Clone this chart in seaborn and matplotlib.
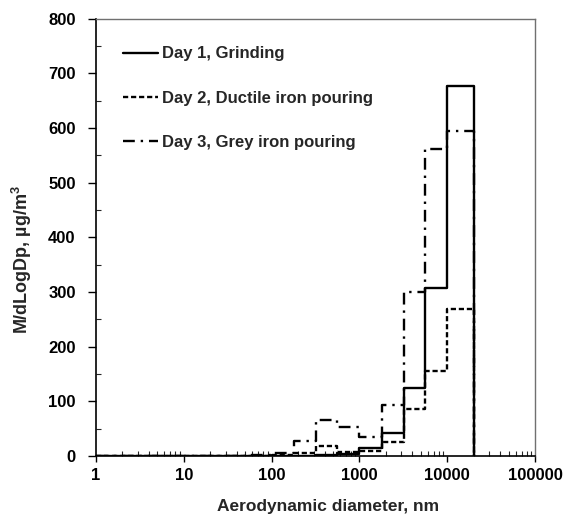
import matplotlib
matplotlib.use("Agg")
import matplotlib.pyplot as plt
import matplotlib.ticker as mticker
import numpy as np
import pandas as pd
import seaborn as sns

# Bin edges (nm) of the impactor stages
edges = [1, 56, 100, 180, 320, 560, 1000, 1800, 3200, 5600, 10000, 20000]
series_names = ["Day 1, Grinding", "Day 2, Ductile iron pouring", "Day 3, Grey iron pouring"]
day1 = [0, 0, 1, 1, 2, 4, 14, 42, 124, 307, 677]
day2 = [0, 1, 2, 5, 18, 8, 10, 25, 86, 156, 269]
day3 = [0, 2, 6, 27, 66, 54, 35, 93, 300, 561, 595]
x_ticks = [1, 10, 100, 1000, 10000, 100000]
y_ticks = [0, 100, 200, 300, 400, 500, 600, 700, 800]

sns.set_style("ticks")
plt.rcParams["font.family"] = ["Liberation Sans", "DejaVu Sans"]
plt.rcParams["font.weight"] = "bold"
plt.rcParams["mathtext.fontset"] = "custom"
plt.rcParams["mathtext.bf"] = "Liberation Sans:bold"
plt.rcParams["mathtext.rm"] = "Liberation Sans:bold"

rows = []
for name, vals in zip(series_names, [day1, day2, day3]):
    ys = list(vals) + [0]
    for x, y in zip(edges, ys):
        rows.append({"x": x, "y": y, "series": name})
df = pd.DataFrame(rows)

fig = plt.figure(figsize=(5.64, 5.23), dpi=100)
ax = fig.add_axes([0.170, 0.128, 0.779, 0.836])

dashes = {
    series_names[0]: "",
    series_names[1]: (2.2, 1.2),
    series_names[2]: (5, 2.5, 1, 2.5),
}
sns.lineplot(data=df, x="x", y="y", hue="series", style="series",
             palette=["black", "black", "black"], dashes=dashes,
             drawstyle="steps-post", linewidth=1.7, ax=ax, sort=False,
             estimator=None, legend=True)

ax.set_xscale("log")
ax.set_xlim(1, 100000)
ax.set_ylim(0, 800)
ax.xaxis.set_major_locator(mticker.FixedLocator(x_ticks))
ax.xaxis.set_major_formatter(mticker.FuncFormatter(lambda v, p: f"{int(round(v))}"))
ax.xaxis.set_minor_locator(mticker.LogLocator(base=10, subs=np.arange(2, 10)))
ax.xaxis.set_minor_formatter(mticker.NullFormatter())
ax.yaxis.set_major_locator(mticker.FixedLocator(y_ticks))
ax.yaxis.set_minor_locator(mticker.MultipleLocator(50))

ax.tick_params(axis="x", which="major", direction="out", length=4.5, width=1,
               labelsize=12, pad=4, colors="black")
ax.tick_params(axis="y", which="major", direction="out", length=5.5, width=1,
               labelsize=12, pad=9, colors="black")
ax.tick_params(axis="both", which="minor", direction="in", length=3.5, width=0.8)
for lab in ax.get_xticklabels() + ax.get_yticklabels():
    lab.set_fontweight("bold")

for s in ["left", "bottom"]:
    ax.spines[s].set_color("black")
    ax.spines[s].set_linewidth(1.2)
for s in ["top", "right"]:
    ax.spines[s].set_visible(True)
    ax.spines[s].set_color("#707070")
    ax.spines[s].set_linewidth(1.0)

ax.set_xlabel("Aerodynamic diameter, nm", fontsize=12.5, fontweight="bold")
ax.set_ylabel(r"M/dLogDp, µg/m$^{\mathbf{3}}$", fontsize=13, fontweight="bold")
ax.xaxis.set_label_coords(0.528, -0.098)
ax.yaxis.set_label_coords(-0.14, 0.449)

leg = ax.legend(loc="upper left", bbox_to_anchor=(0.062, 0.937), frameon=False,
                fontsize=12, handlelength=2.1, handletextpad=0.25,
                labelspacing=1.75, borderpad=0, borderaxespad=0)
for t in leg.get_texts():
    t.set_fontweight("bold")

fig.savefig("out.png", dpi=100)
